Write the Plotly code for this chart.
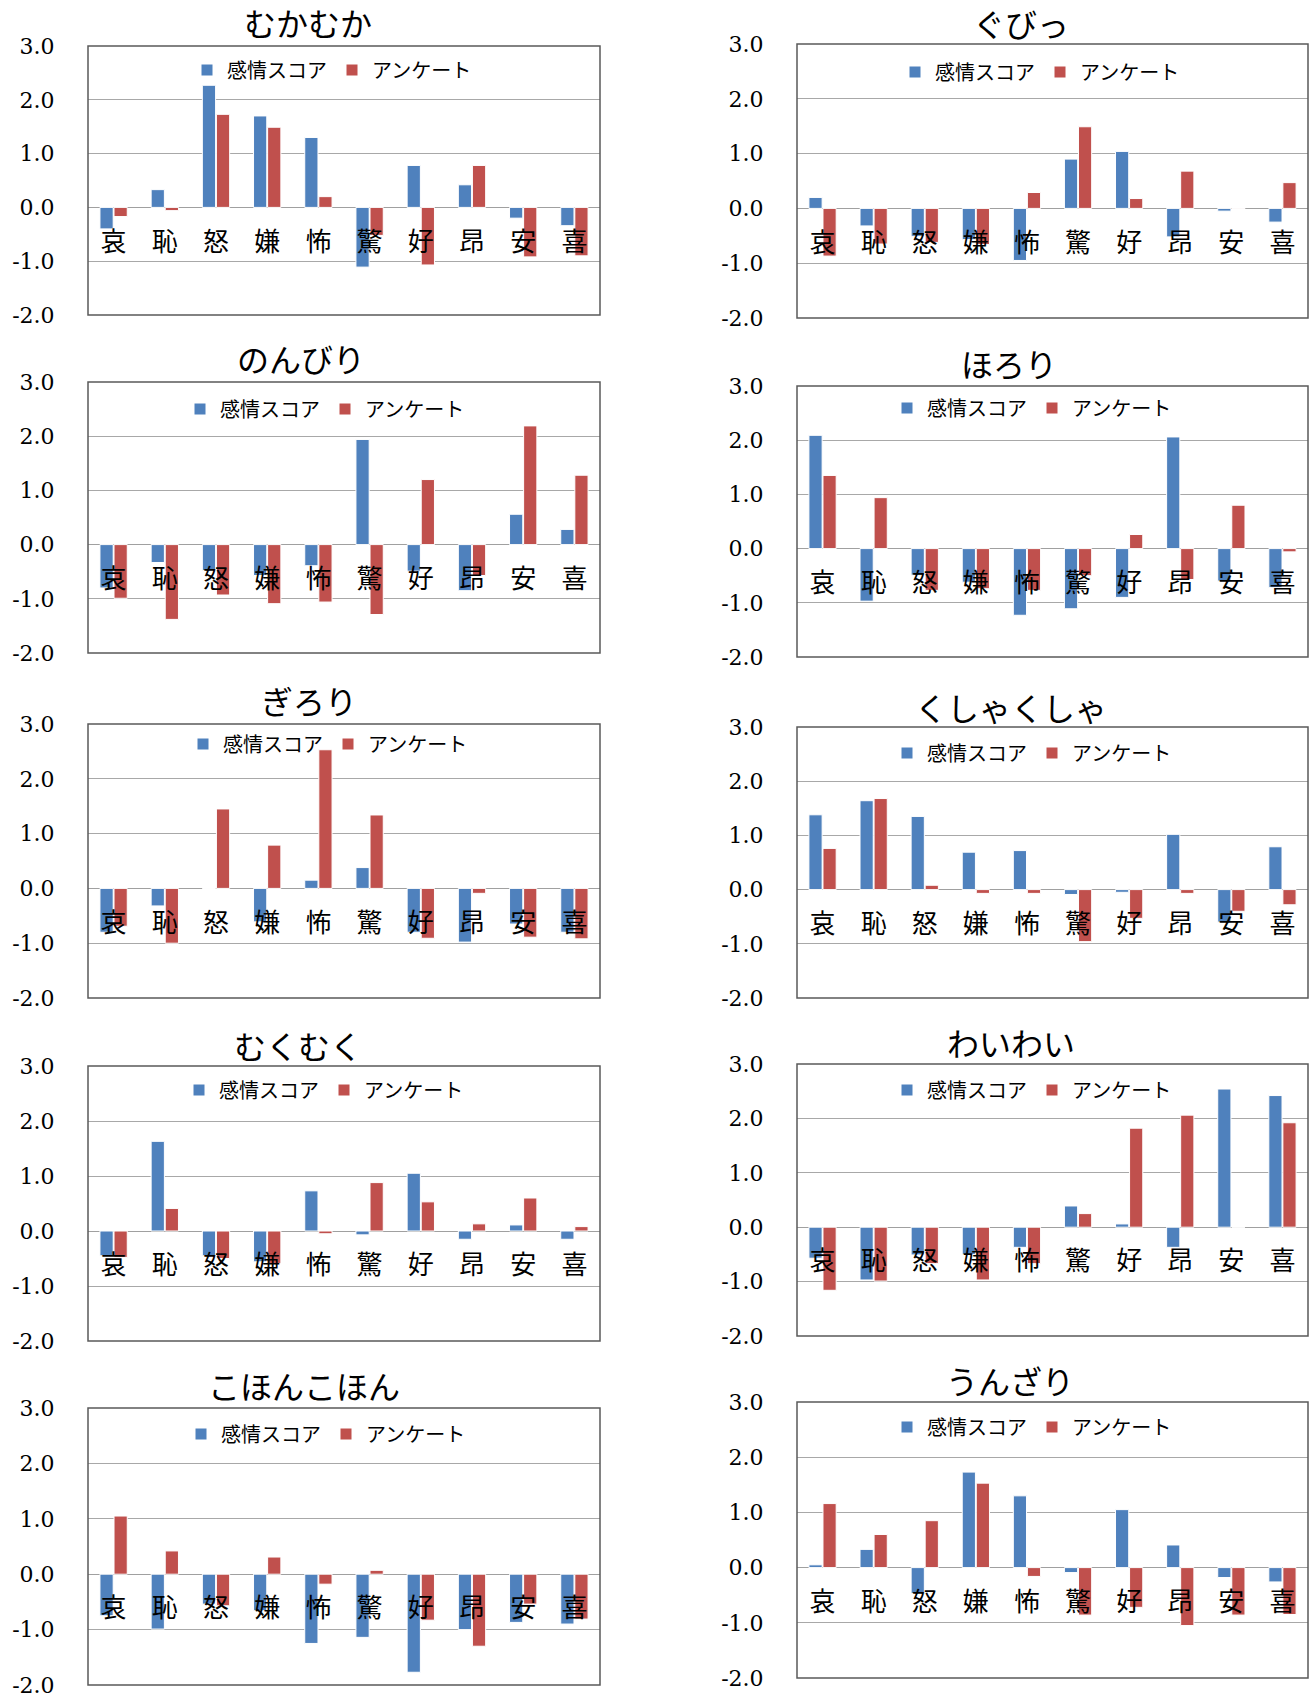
import plotly.graph_objects as go

# ---------------- data ----------------
categories = ["哀", "恥", "怒", "嫌", "怖", "驚", "好", "昂", "安", "喜"]
series_names = ["感情スコア", "アンケート"]
y_tick_vals = [-2, -1, 0, 1, 2, 3]
y_tick_text = ["-2.0", "-1.0", "0.0", "1.0", "2.0", "3.0"]

titles = ["むかむか", "のんびり", "ぎろり", "むくむく", "こほんこほん",
          "ぐびっ", "ほろり", "くしゃくしゃ", "わいわい", "うんざり"]

mukamuka_score = [-0.40, 0.33, 2.27, 1.70, 1.30, -1.11, 0.78, 0.42, -0.20, -0.34]
mukamuka_survey = [-0.17, -0.06, 1.73, 1.49, 0.20, -0.52, -1.07, 0.78, -0.92, -0.90]

nonbiri_score = [-0.80, -0.33, -0.48, -0.57, -0.39, 1.94, -0.49, -0.85, 0.56, 0.28]
nonbiri_survey = [-0.99, -1.38, -0.93, -1.09, -1.06, -1.29, 1.20, -0.57, 2.19, 1.28]

girori_score = [-0.80, -0.32, 0.0, -0.61, 0.15, 0.38, -0.80, -0.98, -0.65, -0.80]
girori_survey = [-0.69, -1.00, 1.45, 0.79, 2.53, 1.34, -0.91, -0.09, -0.89, -0.92]

mukumuku_score = [-0.45, 1.63, -0.45, -0.56, 0.73, -0.07, 1.05, -0.15, 0.11, -0.15]
mukumuku_survey = [-0.48, 0.41, -0.50, -0.59, -0.05, 0.88, 0.53, 0.13, 0.60, 0.08]

kohon_score = [-0.75, -0.99, -0.54, -0.66, -1.25, -1.14, -1.77, -1.00, -0.87, -0.90]
kohon_survey = [1.05, 0.42, -0.57, 0.31, -0.18, 0.07, -0.83, -1.30, -0.54, -0.81]

gubi_score = [0.20, -0.32, -0.51, -0.57, -0.95, 0.90, 1.04, -0.52, -0.05, -0.25]
gubi_survey = [-0.87, -0.65, -0.62, -0.66, 0.29, 1.49, 0.18, 0.68, -0.01, 0.47]

horori_score = [2.09, -0.97, -0.49, -0.62, -1.23, -1.11, -0.90, 2.06, -0.60, -0.72]
horori_survey = [1.35, 0.94, -0.77, -0.74, -0.77, -0.50, 0.26, -0.57, 0.80, -0.06]

kusha_score = [1.38, 1.64, 1.35, 0.69, 0.72, -0.09, -0.05, 1.02, -0.60, 0.79]
kusha_survey = [0.76, 1.68, 0.08, -0.07, -0.07, -0.96, -0.53, -0.07, -0.40, -0.28]

waiwai_score = [-0.57, -0.97, -0.51, -0.50, -0.37, 0.39, 0.06, -0.37, 2.54, 2.42]
waiwai_survey = [-1.16, -0.99, -0.67, -0.97, -0.67, 0.25, 1.82, 2.06, 0.0, 1.92]

unzari_score = [0.05, 0.33, -0.47, 1.73, 1.30, -0.09, 1.05, 0.41, -0.18, -0.26]
unzari_survey = [1.16, 0.60, 0.85, 1.53, -0.16, -0.86, -0.72, -1.05, -0.86, -0.85]

panel_scores = [mukamuka_score, nonbiri_score, girori_score, mukumuku_score, kohon_score,
                gubi_score, horori_score, kusha_score, waiwai_score, unzari_score]
panel_surveys = [mukamuka_survey, nonbiri_survey, girori_survey, mukumuku_survey, kohon_survey,
                 gubi_survey, horori_survey, kusha_survey, waiwai_survey, unzari_survey]

# ---------------- layout geometry (pixels) ----------------
W, H = 1310, 1695
BLUE = "#4F81BD"
RED = "#C0504D"
JP = "Noto Sans CJK JP"
NUM = "DejaVu Serif"

col_x = [(88, 600), (797, 1308)]
rows_left = [(46, 315), (382, 653), (724, 998), (1066, 1341), (1408, 1685)]
rows_right = [(44, 318), (386, 657), (727, 998), (1064, 1336), (1402, 1678)]
title_pos = [(308, 22), (301, 358), (309, 700), (298, 1045), (304, 1385),
             (1021, 23), (1009, 363), (1011, 707), (1011, 1042), (1010, 1380)]
legend_pos = [(332, 70), (325, 409), (328, 744), (324, 1090), (326, 1434),
              (1040, 72), (1032, 408), (1032, 753), (1032, 1090), (1032, 1427)]

fig = go.Figure()
layout = dict(
    width=W, height=H, autosize=False,
    margin=dict(l=0, r=0, t=0, b=0, autoexpand=False),
    paper_bgcolor="white", plot_bgcolor="white",
    bargap=0.45, bargroupgap=0.06, barmode="group",
    annotations=[], shapes=[],
)

for i in range(10):
    n = i + 1
    col = 0 if i < 5 else 1
    r = i % 5
    top, bot = (rows_left if col == 0 else rows_right)[r]
    x0, x1 = col_x[col]
    xa = "x" if n == 1 else f"x{n}"
    ya = "y" if n == 1 else f"y{n}"
    lg = "legend" if n == 1 else f"legend{n}"
    xkey = "xaxis" if n == 1 else f"xaxis{n}"
    ykey = "yaxis" if n == 1 else f"yaxis{n}"

    fig.add_trace(go.Bar(x=categories, y=panel_scores[i], name=series_names[0],
                         marker=dict(color=BLUE, line=dict(color="white", width=1)),
                         xaxis=xa, yaxis=ya, legend=lg))
    fig.add_trace(go.Bar(x=categories, y=panel_surveys[i], name=series_names[1],
                         marker=dict(color=RED, line=dict(color="white", width=1)),
                         xaxis=xa, yaxis=ya, legend=lg))

    yd0 = 1 - bot / H
    yd1 = 1 - top / H
    zero_frac = yd0 + (0 - (-2)) / 5 * (yd1 - yd0)

    layout[xkey] = dict(
        domain=[x0 / W, x1 / W], anchor="free", position=zero_frac,
        showgrid=False, zeroline=False, showline=False,
        ticks="outside", ticklen=11, tickcolor="rgba(0,0,0,0)",
        tickfont=dict(family=JP, size=26, color="black"),
        fixedrange=True,
    )
    layout[ykey] = dict(
        domain=[yd0, yd1], anchor=xa, range=[-2, 3],
        tickvals=y_tick_vals, ticktext=y_tick_text,
        showgrid=True, gridcolor="#a8a8a8", gridwidth=1,
        zeroline=True, zerolinecolor="#a0a0a0", zerolinewidth=1.2,
        showline=False,
        ticks="outside", ticklen=28, tickcolor="rgba(0,0,0,0)",
        tickfont=dict(family=NUM, size=22, color="black"),
        ticklabeloverflow="allow",
        fixedrange=True,
    )
    lx, ly = legend_pos[i]
    layout[lg] = dict(
        x=lx / W, y=1 - ly / H, xanchor="center", yanchor="middle",
        orientation="h", bgcolor="rgba(0,0,0,0)",
        font=dict(family=JP, size=20, color="black"),
        itemclick=False, itemdoubleclick=False,
    )
    tx, ty = title_pos[i]
    layout["annotations"].append(dict(
        text=titles[i], x=tx / W, y=1 - ty / H, xref="paper", yref="paper",
        xanchor="center", yanchor="middle", showarrow=False,
        font=dict(family=JP, size=32, color="black"),
    ))
    layout["shapes"].append(dict(
        type="rect", xref=f"{xa} domain", yref=f"{ya} domain",
        x0=0, x1=1, y0=0, y1=1, line=dict(color="#5a5a5a", width=1.5),
        layer="above",
    ))

fig.update_layout(**layout)
fig.write_html("out.html", config={"displayModeBar": False},
               post_script="document.body.style.margin='0px';")
